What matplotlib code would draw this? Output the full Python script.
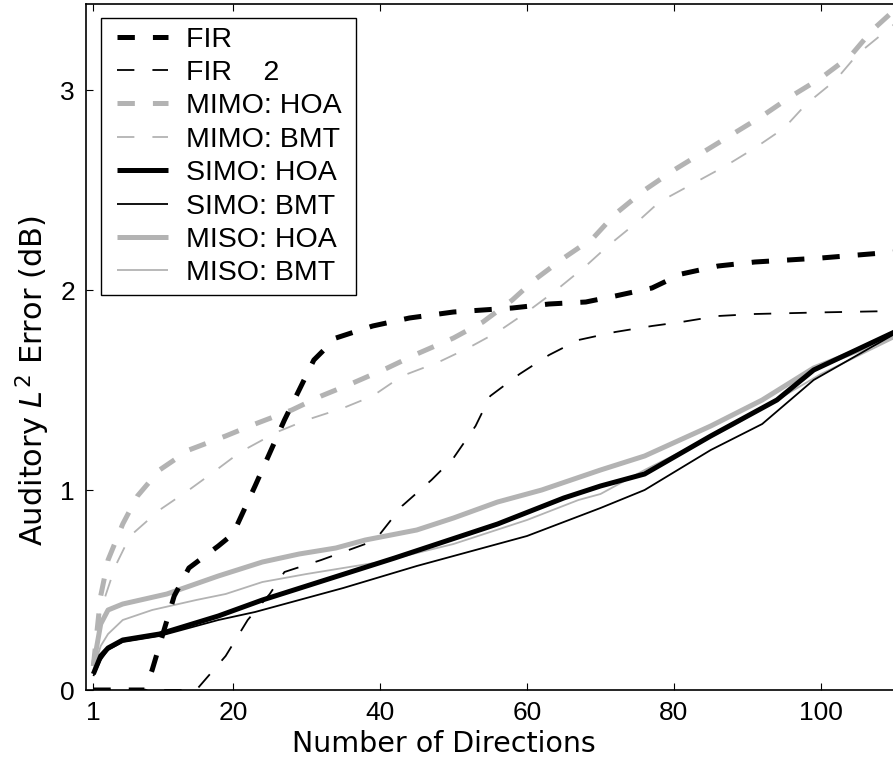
import matplotlib
matplotlib.use("Agg")
import matplotlib.pyplot as plt
from matplotlib.legend_handler import HandlerLine2D

plt.rcParams['font.family'] = ['Liberation Sans', 'DejaVu Sans']
plt.rcParams['mathtext.fontset'] = 'custom'
plt.rcParams['mathtext.rm'] = 'DejaVu Sans'
plt.rcParams['mathtext.it'] = 'DejaVu Sans:italic'
plt.rcParams['lines.scale_dashes'] = False

# ---- data ----
fir_x = [1, 8, 9, 12, 14, 18, 20, 23, 27, 31, 34, 39, 44, 50, 58, 63, 68, 72, 77, 81, 86, 91, 100, 110]
fir_y = [0, 0, 0.10, 0.47, 0.61, 0.72, 0.78, 1.02, 1.35, 1.65, 1.76, 1.82, 1.86, 1.89, 1.91, 1.93, 1.94,
         1.97, 2.01, 2.08, 2.12, 2.14, 2.16, 2.19]

fir2_x = [1, 15, 19, 22, 25, 27, 32, 38, 40, 43, 47, 50, 53, 55, 59, 63, 67, 72, 77, 81, 86, 91, 100, 110]
fir2_y = [0, 0, 0.17, 0.35, 0.48, 0.59, 0.65, 0.73, 0.78, 0.92, 1.05, 1.16, 1.32, 1.47, 1.58, 1.675, 1.75,
          1.79, 1.82, 1.84, 1.87, 1.88, 1.888, 1.895]

mimo_hoa_x = [1, 2, 3, 5, 7, 10, 14, 19, 23, 28, 32, 36, 41, 45, 50, 54, 58, 61, 65, 69, 72, 76, 80, 84,
              88, 92, 96, 100, 104, 107, 110]
mimo_hoa_y = [0.12, 0.47, 0.65, 0.83, 0.97, 1.10, 1.20, 1.27, 1.33, 1.40, 1.47, 1.53, 1.61, 1.68, 1.76,
              1.84, 1.95, 2.05, 2.16, 2.26, 2.38, 2.50, 2.60, 2.69, 2.78, 2.87, 2.97, 3.06, 3.17, 3.30, 3.40]

mimo_bmt_x = [1, 2, 4, 6, 10, 14, 17, 21, 26, 30, 35, 39, 43, 48, 52, 56, 60, 64, 68, 71, 75, 78, 83, 87,
              91, 95, 98, 102, 105, 109, 110]
mimo_bmt_y = [0.12, 0.40, 0.62, 0.77, 0.90, 1.00, 1.08, 1.19, 1.29, 1.35, 1.41, 1.47, 1.57, 1.64, 1.71,
              1.79, 1.89, 2.00, 2.12, 2.22, 2.34, 2.44, 2.54, 2.62, 2.71, 2.81, 2.93, 3.05, 3.18, 3.30, 3.33]

simo_hoa_x = [1, 2, 3, 5, 10, 18, 24, 30, 42, 56, 65, 70, 76, 85, 94, 99, 110]
simo_hoa_y = [0.08, 0.17, 0.21, 0.25, 0.28, 0.37, 0.45, 0.52, 0.66, 0.83, 0.96, 1.02, 1.08, 1.27, 1.45,
              1.60, 1.79]

simo_bmt_x = [1, 2, 3, 5, 10, 18, 23, 28, 35, 45, 53, 60, 70, 76, 85, 92, 99, 110]
simo_bmt_y = [0.07, 0.15, 0.20, 0.24, 0.27, 0.35, 0.39, 0.44, 0.51, 0.62, 0.70, 0.77, 0.91, 1.00, 1.20,
              1.33, 1.55, 1.78]

miso_hoa_x = [1, 2, 3, 5, 11, 18, 24, 29, 34, 38, 45, 50, 56, 62, 70, 76, 85, 92, 99, 110]
miso_hoa_y = [0.12, 0.33, 0.40, 0.43, 0.48, 0.57, 0.64, 0.68, 0.71, 0.75, 0.80, 0.86, 0.94, 1.00, 1.10,
              1.17, 1.32, 1.45, 1.61, 1.77]

miso_bmt_x = [1, 2, 3, 5, 9, 15, 19, 24, 30, 35, 40, 50, 60, 67, 70, 76, 88, 100, 110]
miso_bmt_y = [0.10, 0.22, 0.28, 0.35, 0.40, 0.45, 0.48, 0.54, 0.58, 0.61, 0.64, 0.73, 0.85, 0.95, 0.98,
              1.10, 1.32, 1.58, 1.76]

labels = ["FIR", "FIR    2", "MIMO: HOA", "MIMO: BMT", "SIMO: HOA", "SIMO: BMT", "MISO: HOA", "MISO: BMT"]
x_ticks = [1, 20, 40, 60, 80, 100]
y_ticks = [0, 1, 2, 3]

# ---- figure ----
W, H = 893, 765
fig = plt.figure(figsize=(W / 100, H / 100), dpi=100)
left_px, right_px, top_px, bottom_px = 86, 900, 4, 690
ax = fig.add_axes([left_px / W, (H - bottom_px) / H, (right_px - left_px) / W, (bottom_px - top_px) / H])

GRAY = '#b3b3b3'
THICK, THIN = 3.6, 1.3
dash = (0, (12.5, 13))

series = [
    (fir_x, fir_y, 'black', THICK, dash),
    (fir2_x, fir2_y, 'black', THIN, dash),
    (mimo_hoa_x, mimo_hoa_y, GRAY, THICK, dash),
    (mimo_bmt_x, mimo_bmt_y, GRAY, THIN, dash),
    (simo_hoa_x, simo_hoa_y, 'black', THICK, '-'),
    (simo_bmt_x, simo_bmt_y, 'black', THIN, '-'),
    (miso_hoa_x, miso_hoa_y, GRAY, THICK, '-'),
    (miso_bmt_x, miso_bmt_y, GRAY, THIN, '-'),
]
draw_order = [6, 7, 2, 3, 4, 5, 0, 1]
handles = [None] * len(series)
for i in draw_order:
    xs, ys, c, lw, ls = series[i]
    ln, = ax.plot(xs, ys, color=c, lw=lw, linestyle=ls, label=labels[i], solid_capstyle='butt',
                  dash_capstyle='butt')
    handles[i] = ln

ax.set_xlim(0, (right_px - left_px) / 7.35)
ax.set_ylim(0, (bottom_px - top_px) / 200.0)
ax.set_xticks(x_ticks)
ax.set_yticks(y_ticks)
ax.tick_params(direction='in', length=5, width=0.8, top=True, right=True, labelsize=19, pad=8)
for s in ax.spines.values():
    s.set_linewidth(1.2)

ax_w = right_px - left_px
ax_h = bottom_px - top_px

ax.set_xlabel('Number of Directions', fontsize=20.5, family='DejaVu Sans')
ax.xaxis.set_label_coords((444 - left_px) / ax_w, (bottom_px - 730) / ax_h)
ax.set_ylabel(r'Auditory $\mathit{L}^2$ Error (dB)', fontsize=22, family='DejaVu Sans')
ax.yaxis.set_label_coords((52 - left_px) / ax_w, (bottom_px - 381) / ax_h)

LEG_FS = 20.5
fs_px = LEG_FS * 100 / 72.0
BPAD = 0.3
handler = HandlerLine2D(xpad=(16.3 - BPAD * fs_px) / fs_px)
leg = ax.legend(handles=handles, labels=[l + ' ' for l in labels], loc='upper left',
                bbox_to_anchor=(14.7 / ax_w, 1 - 14 / ax_h), borderaxespad=0,
                prop={'family': 'Liberation Sans', 'size': LEG_FS},
                handlelength=58.6 / fs_px, handletextpad=18 / fs_px, labelspacing=0.26,
                borderpad=BPAD, frameon=True, fancybox=False, edgecolor='black', framealpha=1,
                handler_map={type(handles[0]): handler})
leg.get_frame().set_linewidth(1.0)

fig.savefig('out.png', dpi=100)
